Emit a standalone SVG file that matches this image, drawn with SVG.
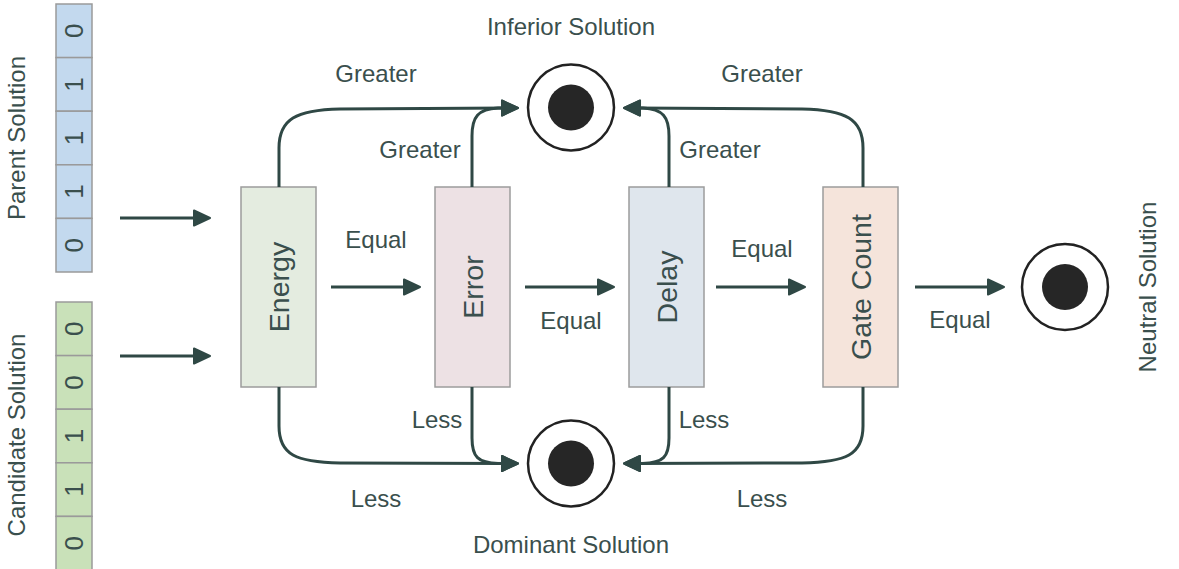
<svg xmlns="http://www.w3.org/2000/svg" width="1179" height="569" viewBox="0 0 1179 569">
  <style>
    text { font-family: "Liberation Sans", Arial, sans-serif; fill: #3a4f4d; }
    .lbl { font-size: 24px; text-anchor: middle; }
    .box-lbl { font-size: 28.5px; text-anchor: middle; dominant-baseline: central; }
    .bit { font-size: 26px; text-anchor: middle; dominant-baseline: central; }
    .cell { stroke: #9a9a9a; stroke-width: 1.5; }
    .parent { fill: #c3d9ee; }
    .cand { fill: #c9e1b9; }
    .box { stroke: #9c9c9c; stroke-width: 1.5; }
    .edge { fill: none; stroke: #2f4845; stroke-width: 3; marker-end: url(#arrow); }
    .ring { fill: #ffffff; stroke: #222222; stroke-width: 2.5; }
    .dot { fill: #262626; }
  </style>
  <defs>
    <marker id="arrow" markerUnits="userSpaceOnUse" markerWidth="30" markerHeight="30" viewBox="-15 -15 30 30" refX="0" refY="0" orient="auto" overflow="visible">
      <path d="M-8,-7.5 L8,0 L-8,7.5 Z" fill="#2f4845" stroke="#2f4845" stroke-width="2" stroke-linejoin="round"/>
    </marker>
  </defs>

  <!-- parent bit string -->
  <g id="parent-solution">
    <rect class="cell parent" x="56" y="4" width="36" height="53.6"/>
    <rect class="cell parent" x="56" y="57.6" width="36" height="53.6"/>
    <rect class="cell parent" x="56" y="111.2" width="36" height="53.6"/>
    <rect class="cell parent" x="56" y="164.8" width="36" height="53.6"/>
    <rect class="cell parent" x="56" y="218.4" width="36" height="53.6"/>
    <text class="bit" transform="translate(74,30.8) rotate(-90)">0</text>
    <text class="bit" transform="translate(74,84.4) rotate(-90)">1</text>
    <text class="bit" transform="translate(74,138) rotate(-90)">1</text>
    <text class="bit" transform="translate(74,191.6) rotate(-90)">1</text>
    <text class="bit" transform="translate(74,245.2) rotate(-90)">0</text>
    <text class="lbl" transform="translate(25,138) rotate(-90)">Parent Solution</text>
  </g>

  <!-- candidate bit string -->
  <g id="candidate-solution">
    <rect class="cell cand" x="56" y="302" width="36" height="53.6"/>
    <rect class="cell cand" x="56" y="355.6" width="36" height="53.6"/>
    <rect class="cell cand" x="56" y="409.2" width="36" height="53.6"/>
    <rect class="cell cand" x="56" y="462.8" width="36" height="53.6"/>
    <rect class="cell cand" x="56" y="516.4" width="36" height="53.6"/>
    <text class="bit" transform="translate(74,328.8) rotate(-90)">0</text>
    <text class="bit" transform="translate(74,382.4) rotate(-90)">0</text>
    <text class="bit" transform="translate(74,436) rotate(-90)">1</text>
    <text class="bit" transform="translate(74,489.6) rotate(-90)">1</text>
    <text class="bit" transform="translate(74,543.2) rotate(-90)">0</text>
    <text class="lbl" transform="translate(25,435) rotate(-90)">Candidate Solution</text>
  </g>

  <!-- comparison stages -->
  <g id="energy">
    <rect class="box" x="241" y="187" width="75" height="200" fill="#e4ece0"/>
    <text class="box-lbl" transform="translate(278.5,287) rotate(-90)">Energy</text>
  </g>
  <g id="error">
    <rect class="box" x="435" y="187" width="75" height="200" fill="#ede1e4"/>
    <text class="box-lbl" transform="translate(472.5,287) rotate(-90)">Error</text>
  </g>
  <g id="delay">
    <rect class="box" x="629" y="187" width="75" height="200" fill="#dfe6ed"/>
    <text class="box-lbl" transform="translate(666.5,287) rotate(-90)">Delay</text>
  </g>
  <g id="gate-count">
    <rect class="box" x="823" y="187" width="75" height="200" fill="#f5e4db"/>
    <text class="box-lbl" transform="translate(860.5,287) rotate(-90)">Gate Count</text>
  </g>

  <!-- outcomes -->
  <g id="inferior">
    <circle class="ring" cx="571" cy="107.5" r="43"/>
    <circle class="dot" cx="571" cy="107.5" r="23"/>
    <text class="lbl" x="571" y="35">Inferior Solution</text>
  </g>
  <g id="dominant">
    <circle class="ring" cx="571" cy="463.5" r="43"/>
    <circle class="dot" cx="571" cy="463.5" r="23"/>
    <text class="lbl" x="571" y="553">Dominant Solution</text>
  </g>
  <g id="neutral">
    <circle class="ring" cx="1065" cy="287" r="43"/>
    <circle class="dot" cx="1065" cy="287" r="23"/>
    <text class="lbl" transform="translate(1156,287) rotate(-90)">Neutral Solution</text>
  </g>

  <!-- connectors -->
  <g id="connectors">
    <path class="edge" d="M120,218 H202"/>
    <path class="edge" d="M120,356 H202"/>

    <path class="edge" d="M331,287 H412"/>
    <path class="edge" d="M525,287 H606"/>
    <path class="edge" d="M716,287 H797"/>
    <path class="edge" d="M915,287 H996"/>

    <path class="edge" d="M279,187 V148 C279,119 296,110 340,109 L510,108"/>
    <path class="edge" d="M472,187 V136 C472,117 478,109 498,108 L510,108"/>
    <path class="edge" d="M669,187 V136 C669,117 663,109 643,108 L632,108"/>
    <path class="edge" d="M863,187 V148 C863,119 846,110 802,109 L632,108"/>

    <path class="edge" d="M279,387 V426 C279,455 296,462 340,463 L510,463.5"/>
    <path class="edge" d="M472,387 V438 C472,457 478,463 498,463.5 L510,463.5"/>
    <path class="edge" d="M669,387 V438 C669,457 663,463 643,463.5 L632,463.5"/>
    <path class="edge" d="M863,387 V426 C863,455 846,462 802,463 L632,463.5"/>
  </g>

  <!-- connector labels -->
  <g id="edge-labels">
    <text class="lbl" x="376" y="82">Greater</text>
    <text class="lbl" x="420" y="158">Greater</text>
    <text class="lbl" x="762" y="82">Greater</text>
    <text class="lbl" x="720" y="158">Greater</text>
    <text class="lbl" x="376" y="248">Equal</text>
    <text class="lbl" x="571" y="329">Equal</text>
    <text class="lbl" x="762" y="257">Equal</text>
    <text class="lbl" x="960" y="328">Equal</text>
    <text class="lbl" x="437" y="428">Less</text>
    <text class="lbl" x="376" y="507">Less</text>
    <text class="lbl" x="704" y="428">Less</text>
    <text class="lbl" x="762" y="507">Less</text>
  </g>
</svg>
